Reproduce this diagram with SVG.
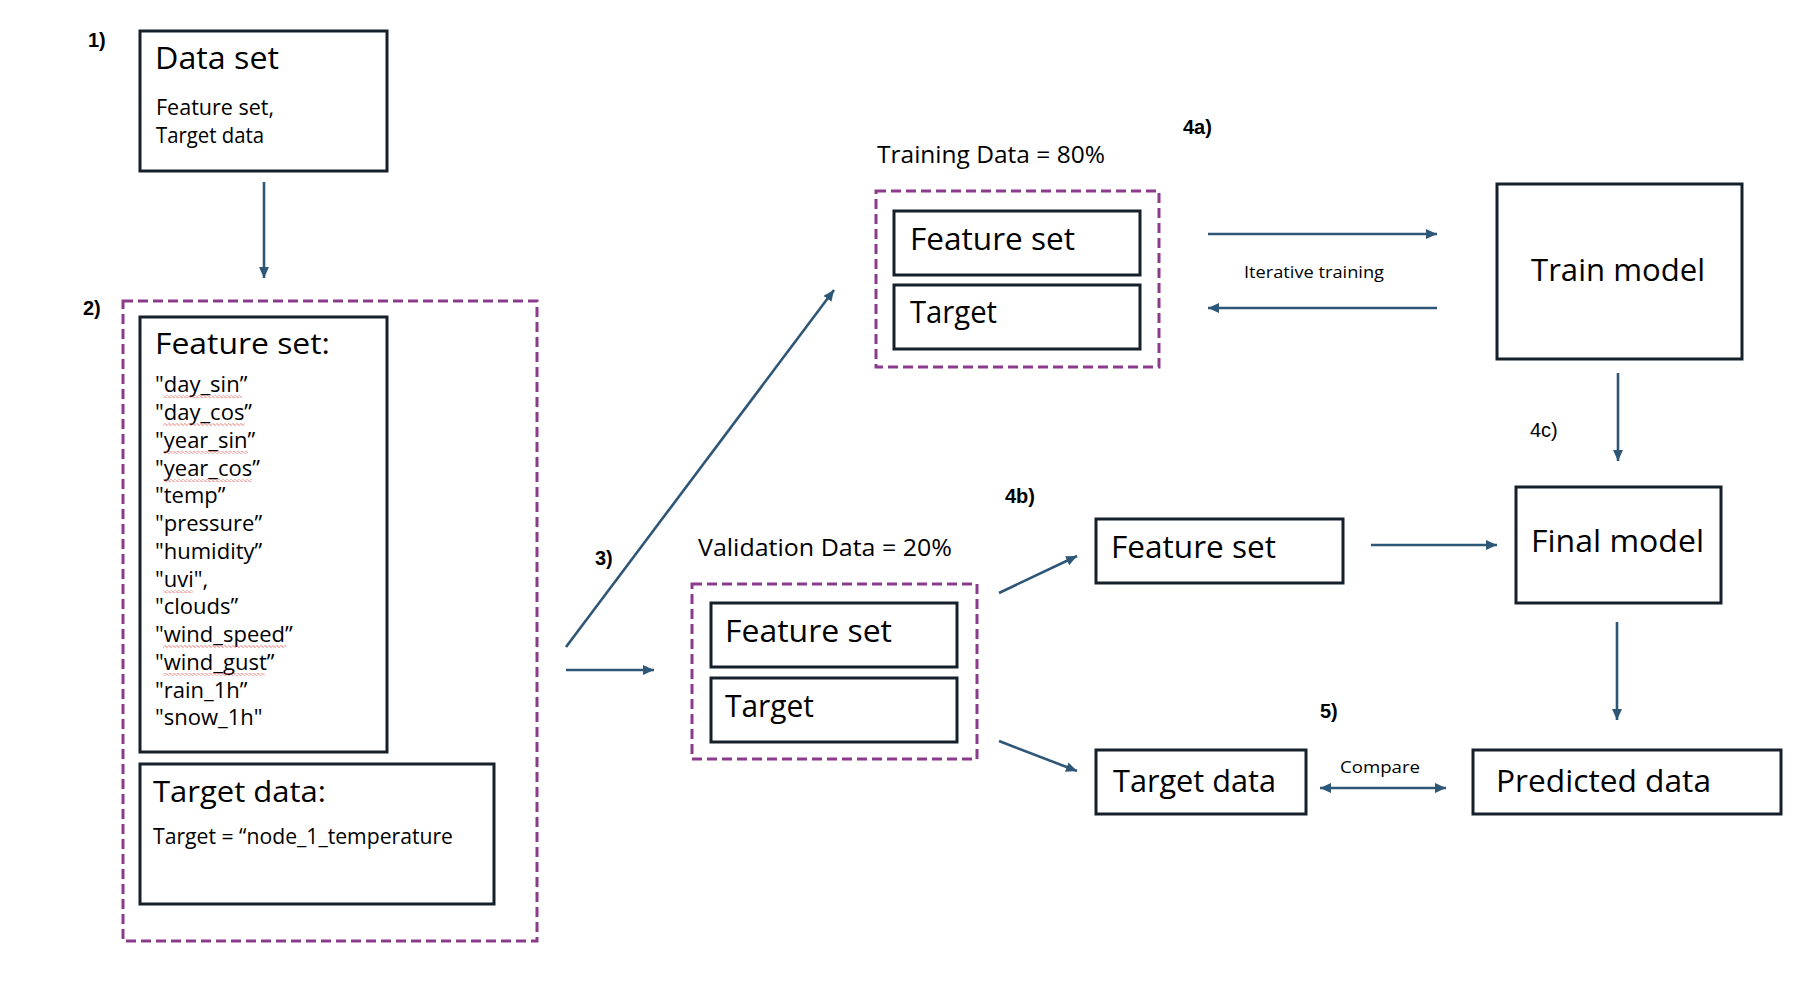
<svg xmlns="http://www.w3.org/2000/svg" width="1815" height="999" viewBox="0 0 1815 999">
<style>
  .box{fill:#fff;stroke:#15202b;stroke-width:3}
  .dash{fill:none;stroke:#8b3a8c;stroke-width:3;stroke-dasharray:10 5}
  .con{fill:none;stroke:#2e5677;stroke-width:2.6}
  text{font-family:"Open Sans","Liberation Sans",Arial,sans-serif;fill:#000}
  .big{font-size:31px}
  .mid{font-size:24px}
  .sm{font-size:21px}
  .list{font-size:22px}
  .num{font-family:"Liberation Sans",Arial,sans-serif;font-size:20px;font-weight:bold}
</style>
<defs>
  <marker id="ah" markerUnits="userSpaceOnUse" markerWidth="11" markerHeight="10" refX="11" refY="5" orient="auto-start-reverse">
    <path d="M0,0 L11,5 L0,10 z" fill="#2e5677"/>
  </marker>
  <pattern id="squig" patternUnits="userSpaceOnUse" width="4" height="3">
    <path d="M0,1.5 L1,0.5 L3,2.5 L4,1.5" fill="none" stroke="#e0443a" stroke-width="0.8"/>
  </pattern>
</defs>
<rect width="1815" height="999" fill="#fff"/>

<g id="labels">
  <text class="num" x="88" y="47">1)</text>
  <text class="num" x="83" y="315">2)</text>
  <text class="num" x="595" y="565">3)</text>
  <text class="num" x="1183" y="134">4a)</text>
  <text class="num" x="1005" y="503">4b)</text>
  <text x="1530" y="437" style="font-family:'Liberation Sans',Arial,sans-serif;font-size:20px">4c)</text>
  <text class="num" x="1320" y="718">5)</text>
</g>

<g id="dataset">
  <rect class="box" x="140" y="31" width="247" height="140"/>
  <text class="big" x="155" y="69" textLength="124" lengthAdjust="spacingAndGlyphs">Data set</text>
  <text class="sm" x="156" y="115" textLength="118" lengthAdjust="spacingAndGlyphs">Feature set,</text>
  <text class="sm" x="156" y="143" textLength="108" lengthAdjust="spacingAndGlyphs">Target data</text>
</g>

<g id="group2">
  <rect class="dash" x="123" y="301" width="414" height="640"/>
  <g id="featureset-list">
    <rect class="box" x="140" y="317" width="247" height="435"/>
    <text class="big" x="155" y="354" textLength="175" lengthAdjust="spacingAndGlyphs" style="font-size:30px">Feature set:</text>
    <g class="list">
      <text x="155" y="392">"day_sin”</text>
      <text x="155" y="420">"day_cos”</text>
      <text x="155" y="448">"year_sin”</text>
      <text x="155" y="476">"year_cos”</text>
      <text x="155" y="503">"temp”</text>
      <text x="155" y="531">"pressure”</text>
      <text x="155" y="559">"humidity”</text>
      <text x="155" y="587">"uvi",</text>
      <text x="155" y="614">"clouds”</text>
      <text x="155" y="642">"wind_speed”</text>
      <text x="155" y="670">"wind_gust”</text>
      <text x="155" y="698">"rain_1h”</text>
      <text x="155" y="725">"snow_1h"</text>
    </g>
    <g fill="url(#squig)">
      <rect x="163" y="395" width="79" height="3"/>
      <rect x="163" y="423" width="82" height="3"/>
      <rect x="163" y="451" width="85" height="3"/>
      <rect x="163" y="479" width="89" height="3"/>
      <rect x="163" y="590" width="30" height="3"/>
      <rect x="163" y="645" width="123" height="3"/>
      <rect x="163" y="673" width="102" height="3"/>
    </g>
  </g>
  <g id="targetdata-box">
    <rect class="box" x="140" y="764" width="354" height="140"/>
    <text class="big" x="153" y="802" textLength="173" lengthAdjust="spacingAndGlyphs" style="font-size:30px">Target data:</text>
    <text class="sm" x="153" y="844" textLength="300" lengthAdjust="spacingAndGlyphs">Target = “node_1_temperature</text>
  </g>
</g>

<g id="training">
  <text class="mid" x="877" y="163" textLength="228" lengthAdjust="spacingAndGlyphs">Training Data = 80%</text>
  <rect class="dash" x="876" y="191" width="283" height="176"/>
  <rect class="box" x="894" y="211" width="246" height="64"/>
  <text class="big" x="910" y="250" textLength="165" lengthAdjust="spacingAndGlyphs">Feature set</text>
  <rect class="box" x="894" y="285" width="246" height="64"/>
  <text class="big" x="910" y="323" textLength="87" lengthAdjust="spacingAndGlyphs">Target</text>
</g>

<g id="trainmodel">
  <rect class="box" x="1497" y="184" width="245" height="175"/>
  <text class="big" x="1531" y="281" textLength="174" lengthAdjust="spacingAndGlyphs">Train model</text>
</g>

<g id="validation">
  <text class="mid" x="698" y="556" textLength="254" lengthAdjust="spacingAndGlyphs">Validation Data = 20%</text>
  <rect class="dash" x="692" y="584" width="285" height="175"/>
  <rect class="box" x="711" y="603" width="246" height="64"/>
  <text class="big" x="725" y="642" textLength="167" lengthAdjust="spacingAndGlyphs">Feature set</text>
  <rect class="box" x="711" y="678" width="246" height="64"/>
  <text class="big" x="725" y="717" textLength="89" lengthAdjust="spacingAndGlyphs">Target</text>
</g>

<g id="featureset-b">
  <rect class="box" x="1096" y="519" width="247" height="64"/>
  <text class="big" x="1111" y="558" textLength="165" lengthAdjust="spacingAndGlyphs">Feature set</text>
</g>

<g id="finalmodel">
  <rect class="box" x="1516" y="487" width="205" height="116"/>
  <text class="big" x="1531" y="552" textLength="173" lengthAdjust="spacingAndGlyphs">Final model</text>
</g>

<g id="targetdata">
  <rect class="box" x="1096" y="750" width="210" height="64"/>
  <text class="big" x="1113" y="792" textLength="163" lengthAdjust="spacingAndGlyphs">Target data</text>
</g>

<g id="predicted">
  <rect class="box" x="1473" y="750" width="308" height="64"/>
  <text class="big" x="1496" y="792" textLength="215" lengthAdjust="spacingAndGlyphs">Predicted data</text>
</g>

<g id="connectors">
  <line class="con" x1="264" y1="182" x2="264" y2="278" marker-end="url(#ah)"/>
  <line class="con" x1="566" y1="647" x2="834" y2="290" marker-end="url(#ah)"/>
  <line class="con" x1="566" y1="670" x2="654" y2="670" marker-end="url(#ah)"/>
  <line class="con" x1="1208" y1="234" x2="1437" y2="234" marker-end="url(#ah)"/>
  <line class="con" x1="1437" y1="308" x2="1208" y2="308" marker-end="url(#ah)"/>
  <text x="1244" y="278" textLength="140" lengthAdjust="spacingAndGlyphs" style="font-size:16px">Iterative training</text>
  <line class="con" x1="1618" y1="373" x2="1618" y2="461" marker-end="url(#ah)"/>
  <line class="con" x1="999" y1="593" x2="1077" y2="556" marker-end="url(#ah)"/>
  <line class="con" x1="999" y1="741" x2="1077" y2="771" marker-end="url(#ah)"/>
  <line class="con" x1="1371" y1="545" x2="1497" y2="545" marker-end="url(#ah)"/>
  <line class="con" x1="1617" y1="622" x2="1617" y2="720" marker-end="url(#ah)"/>
  <line class="con" x1="1320" y1="788" x2="1446" y2="788" marker-start="url(#ah)" marker-end="url(#ah)"/>
  <text x="1340" y="773" textLength="80" lengthAdjust="spacingAndGlyphs" style="font-size:17px">Compare</text>
</g>
</svg>
